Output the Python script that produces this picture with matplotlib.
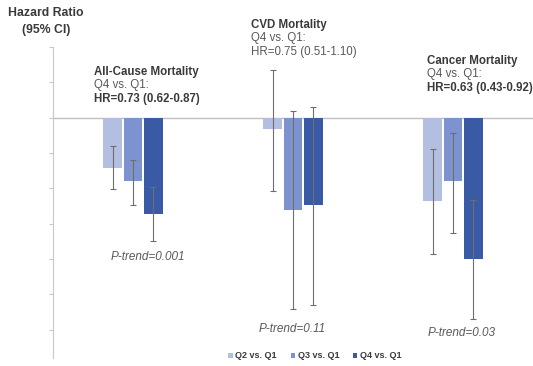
import matplotlib
matplotlib.use("Agg")
import matplotlib.pyplot as plt
import numpy as np

plt.rcParams['font.family'] = ['Liberation Sans', 'DejaVu Sans']

# ---- data ----
outcomes = ["All-Cause Mortality", "CVD Mortality", "Cancer Mortality"]
series = ["Q2 vs. Q1", "Q3 vs. Q1", "Q4 vs. Q1"]
hr_q2 = [0.859, 0.968, 0.765]
lo_q2 = [0.799, 0.793, 0.614]
hi_q2 = [0.921, 1.136, 0.911]
hr_q3 = [0.821, 0.739, 0.821]
lo_q3 = [0.752, 0.458, 0.675]
hi_q3 = [0.881, 1.020, 0.958]
hr_q4 = [0.727, 0.754, 0.601]
lo_q4 = [0.652, 0.470, 0.431]
hi_q4 = [0.803, 1.030, 0.768]
q4_labels = ["HR=0.73 (0.62-0.87)", "HR=0.75 (0.51-1.10)", "HR=0.63 (0.43-0.92)"]
q4_bold = [True, False, True]
ptrend = ["P-trend=0.001", "P-trend=0.11", "P-trend=0.03"]

colors = ["#b3bfe0", "#7d93cf", "#3b5aa5"]

fig = plt.figure(figsize=(5.33, 3.66), dpi=100)
ax = fig.add_axes([53/533, 1-358/366, 1-53/533, (358-47)/366])

x = np.arange(len(outcomes))
offsets = [-0.127, 0.0, 0.127]
width = 0.116
hrs = [hr_q2, hr_q3, hr_q4]
los = [lo_q2, lo_q3, lo_q4]
his = [hi_q2, hi_q3, hi_q4]
for i in range(3):
    hr = np.array(hrs[i]); lo = np.array(los[i]); hi = np.array(his[i])
    ax.bar(x + offsets[i], hr - 1, bottom=1, width=width, color=colors[i],
           label=series[i], zorder=2)
    ax.errorbar(x + offsets[i], hr, yerr=[hr - lo, hi - hr], fmt='none',
                ecolor='#6e6e6e', elinewidth=0.8, capsize=2, capthick=0.8, zorder=3)

ax.axhline(1.0, color='#c0c0c0', lw=1.0, zorder=1)
ax.set_xlim(-0.5, 2.5)
ax.set_ylim(0.32, 1.2)
ax.set_yticks(np.arange(0.4, 1.21, 0.1))
ax.set_yticklabels([])
ax.set_xticks([])
for s in ['top', 'right', 'bottom']:
    ax.spines[s].set_visible(False)
ax.spines['left'].set_color('#c8c8c8')
ax.tick_params(axis='y', length=3, color='#c8c8c8', width=0.8)

dark = '#3a3a3a'
gray = '#595959'
# annotation blocks (left x px, y px of first line)
blocks = [(95, 72), (252, 25), (428, 61)]
def px2x(px):
    return (px - 133.7) / 160.0
def py2y(py):
    return 1 - (py - 118) / 353.0
for k in range(3):
    bx, by = blocks[k]
    ax.text(px2x(bx), py2y(by), outcomes[k], fontsize=8.3, fontweight='bold',
            color=dark, ha='left', va='center', clip_on=False)
    ax.text(px2x(bx), py2y(by + 13.5), "Q4 vs. Q1:", fontsize=8.3,
            color=gray, ha='left', va='center', clip_on=False)
    ax.text(px2x(bx), py2y(by + 27), q4_labels[k], fontsize=8.3,
            fontweight='bold' if q4_bold[k] else 'normal',
            color=dark if q4_bold[k] else gray, ha='left', va='center', clip_on=False)

ptpos = [(149, 257), (293, 329), (462, 333)]
for k in range(3):
    ax.text(px2x(ptpos[k][0]), py2y(ptpos[k][1]), ptrend[k], fontsize=8.5,
            style='italic', color=gray, ha='center', va='center')

fig.text(46/533, 1-13/366, "Hazard Ratio", fontsize=8.8, fontweight='bold',
         color=dark, ha='center', va='center')
fig.text(46/533, 1-30/366, "(95% CI)", fontsize=8.8, fontweight='bold',
         color=dark, ha='center', va='center')

leg = fig.legend(loc='center', bbox_to_anchor=(315/533, 1-356/366), ncol=3,
                 frameon=False, fontsize=6.5, handlelength=0.5, handleheight=0.5,
                 handletextpad=0.3, columnspacing=1.5)
for t in leg.get_texts():
    t.set_fontweight('bold')
    t.set_color(dark)

fig.savefig("out.png", dpi=100)
